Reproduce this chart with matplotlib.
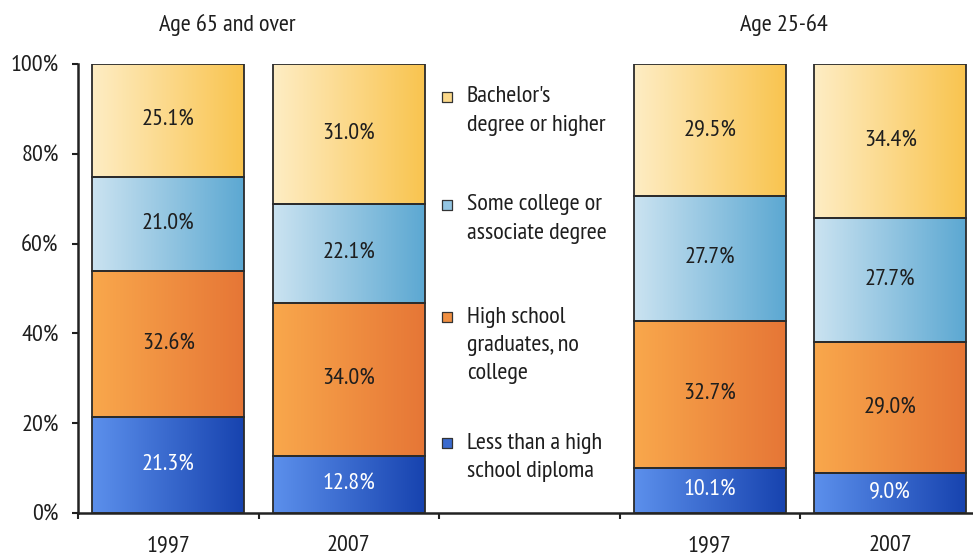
import numpy as np
import matplotlib
matplotlib.use("Agg")
import matplotlib.pyplot as plt
from matplotlib.colors import to_rgb

# ---- data ----
positions = [0, 1, 3, 4]
years = ["1997", "2007", "1997", "2007"]
groups = ["Age 65 and over", "Age 25-64"]
group_centers = [0.325, 3.41]
less_hs = [21.3, 12.8, 10.1, 9.0]
hs_grad = [32.6, 34.0, 32.7, 29.0]
some_col = [21.0, 22.1, 27.7, 27.7]
bachelor = [25.1, 31.0, 29.5, 34.4]
series = [less_hs, hs_grad, some_col, bachelor]
series_labels = ["Less than a high\nschool diploma",
                 "High school\ngraduates, no\ncollege",
                 "Some college or\nassociate degree",
                 "Bachelor's\ndegree or higher"]
yticks = [0, 20, 40, 60, 80, 100]
ytick_labels = ["0%", "20%", "40%", "60%", "80%", "100%"]

# gradient colours (left, right)
grads = [("#5C90EC", "#1743AF"),
         ("#F9A84C", "#E67636"),
         ("#CBE3F1", "#5CA8D2"),
         ("#FEEDC4", "#F9C44F")]
text_colors = ["white", "#1e1e1e", "#1e1e1e", "#1e1e1e"]

plt.rcParams["font.family"] = ["PT Sans Narrow", "DejaVu Sans"]
FS = 17.5

fig = plt.figure(figsize=(9.73, 5.58), dpi=100)
ax = fig.add_axes([78/973, 1-513/558, (973-78)/973, (513-64)/558])

bottom = np.zeros(len(positions))
for vals, (c0, c1), tc in zip(series, grads, text_colors):
    bars = ax.bar(positions, vals, width=0.84, bottom=bottom, facecolor="none",
                  edgecolor="#2b2b2b", linewidth=1.3, zorder=3)
    c0, c1 = np.array(to_rgb(c0)), np.array(to_rgb(c1))
    t = np.linspace(0, 1, 256)[None, :, None]
    img = c0 + (c1 - c0) * t
    for p, v, b in zip(bars.patches, vals, bottom):
        x0, y0 = p.get_x(), p.get_y()
        ax.imshow(img, extent=[x0, x0 + p.get_width(), y0, y0 + p.get_height()],
                  aspect="auto", interpolation="bilinear", zorder=2)
        ax.text(x0 + p.get_width()/2, b + v/2, f"{v:.1f}%", ha="center", va="center",
                color=tc, fontsize=FS, zorder=4)
    bottom = bottom + np.array(vals)

ax.set_xlim(-0.5, -0.5 + (973-78)/180.5)
ax.set_ylim(0, 100)

# legend (manual, in the empty slot)
leg_y = [(513-443)/449*100, (513-317)/449*100, (513-205)/449*100, (513-97)/449*100]
line_step = 28/449*100
for lbl, (c0, c1), yy in zip(series_labels, grads, leg_y):
    mid = (np.array(to_rgb(c0)) + np.array(to_rgb(c1))) / 2
    ax.scatter([1.545], [yy], marker="s", s=60, color=mid, edgecolor="#333333",
               linewidth=0.9, zorder=3, clip_on=False)
    for i, line in enumerate(lbl.split("\n")):
        ax.text(1.655, yy - i*line_step, line, ha="left", va="center",
                fontsize=FS, color="#1e1e1e")

# group titles
for g, gx in zip(groups, group_centers):
    ax.text(gx, 1.087, g, transform=ax.get_xaxis_transform(), ha="center",
            va="center", fontsize=FS, color="#1e1e1e")

# axes styling
for s in ["top", "right"]:
    ax.spines[s].set_visible(False)
for s in ["left", "bottom"]:
    ax.spines[s].set_linewidth(1.8)
    ax.spines[s].set_color("#222222")
ax.set_yticks(yticks)
ax.set_yticklabels(ytick_labels)
ax.tick_params(axis="y", length=4, width=1.5, pad=10, labelsize=FS, colors="#1e1e1e")
ax.set_xticks(positions)
ax.set_xticklabels(years)
ax.tick_params(axis="x", which="major", length=0, pad=16, labelsize=FS, colors="#1e1e1e")
ax.set_xticks([-0.5, 0.5, 1.5, 2.5, 3.5], minor=True)
ax.tick_params(axis="x", which="minor", length=4.5, width=1.5, color="#222222")

fig.savefig("out.png", dpi=100, facecolor="white")
